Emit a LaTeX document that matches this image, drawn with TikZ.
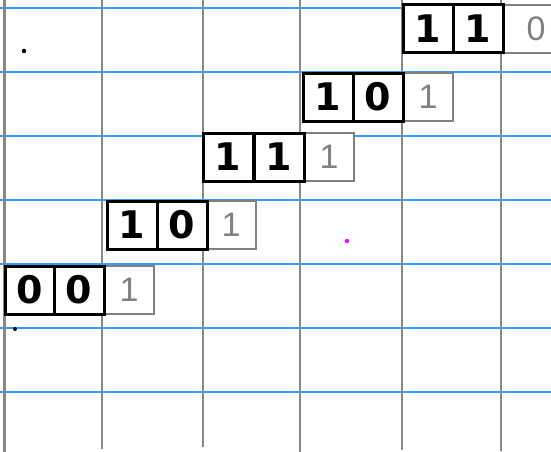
\documentclass[tikz,border=0pt]{standalone}
\usepackage{fontspec}
\setmainfont{Liberation Sans}
\newfontfamily\digfont{DejaVu Sans}
\definecolor{gridblue}{HTML}{3399FF}
\definecolor{gridgray}{HTML}{888888}
\definecolor{boxgray}{HTML}{808080}
\definecolor{marginpink}{HTML}{E070A0}
\definecolor{dotmagenta}{HTML}{FF00FF}
\tikzset{
  hline/.style={draw=gridblue, line width=1.9pt},
  vline/.style={draw=gridgray, line width=2.6pt},
  bitbox/.style={draw=black, fill=white, line width=3pt, minimum width=50pt, minimum height=48pt,
    inner sep=0pt, text=black, font=\digfont\bfseries\fontsize{38}{38}\selectfont},
  ghostbox/.style={draw=boxgray, fill=white, line width=1.8pt, minimum width=50pt, minimum height=48pt,
    inner sep=0pt, text=boxgray, font=\fontsize{34}{34}\selectfont},
  inkdot/.style={fill=black, draw=none},
}
\begin{document}
\begin{tikzpicture}[x=1pt, y=-1pt]
\useasboundingbox (0,0) rectangle (551,452);
\fill[white] (0,0) rectangle (551,452);
% horizontal blue lines
\foreach \yy in {8,72,136,200,264,328,392} {
  \draw[hline] (0,\yy) -- (551,\yy);
}
% margin line
\draw[draw=marginpink, line width=0.8pt] (3,0) -- (3,452);
% vertical gray lines
\draw[vline] (4.5,0) -- (4.5,452);
\draw[vline] (102,0) -- (102,449);
\draw[vline] (203,0) -- (203,447);
\draw[vline] (300,0) -- (300,452);
\draw[vline] (402,0) -- (402,450);
\draw[vline] (501,0) -- (501,451);
% row 1
\node[ghostbox] (g1) at (528,29) {\hspace{16pt}0};
\node[bitbox] (a1) at (428,29) {1};
\node[bitbox] (b1) at (478,29) {1};
% row 2
\node[ghostbox] (g2) at (428,97) {1};
\node[bitbox] (a2) at (328,97) {1};
\node[bitbox] (b2) at (378,97) {0};
% row 3
\node[ghostbox] (g3) at (329,157) {1};
\node[bitbox] (a3) at (228,157) {1};
\node[bitbox] (b3) at (279,157) {1};
% row 4
\node[ghostbox] (g4) at (231,225) {1};
\node[bitbox] (a4) at (132,225) {1};
\node[bitbox] (b4) at (182,225) {0};
% row 5
\node[ghostbox] (g5) at (129,290) {1};
\node[bitbox] (a5) at (30,290) {0};
\node[bitbox] (b5) at (79,290) {0};
% stray dots
\fill[inkdot] (24,51) circle (2.2pt);
\fill[inkdot] (15,329) circle (2pt);
\fill[dotmagenta] (347,241) circle (2.2pt);
\end{tikzpicture}
\end{document}
